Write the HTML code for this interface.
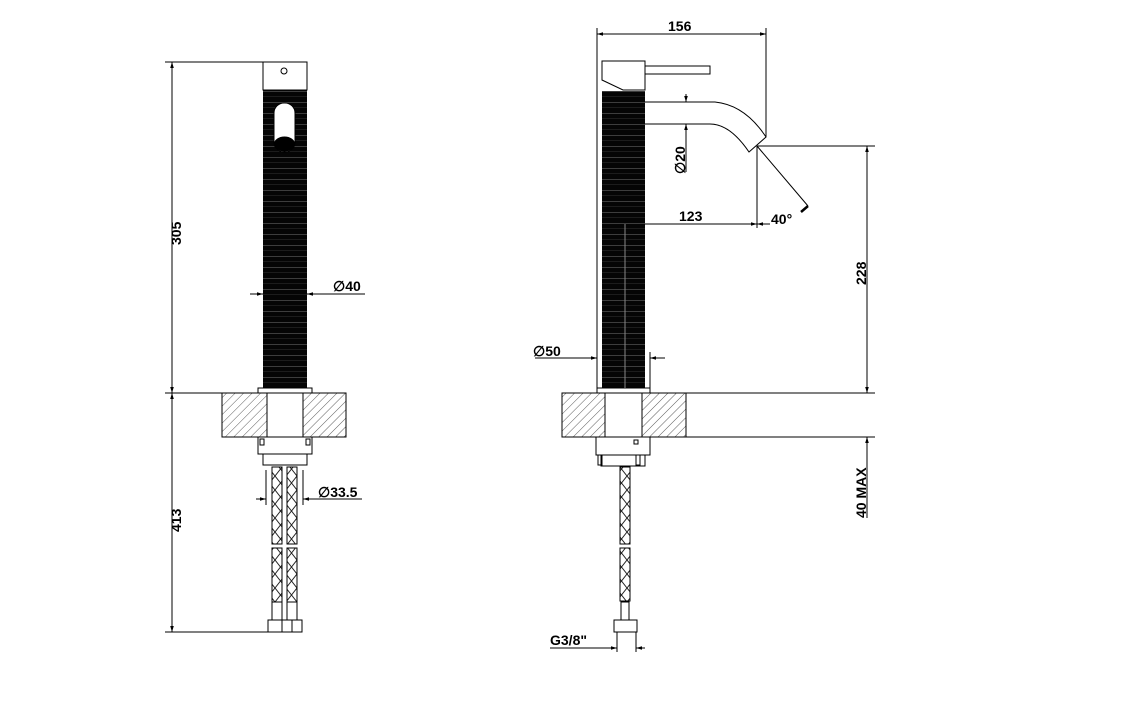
<!DOCTYPE html>
<html><head><meta charset="utf-8"><style>html,body{margin:0;padding:0;background:#fff}svg{display:block}text{font-family:"Liberation Sans",sans-serif;font-weight:bold;font-size:14px;fill:#000}</style></head>
<body>
<svg width="1132" height="715" viewBox="0 0 1132 715" xmlns="http://www.w3.org/2000/svg">
<defs>
<pattern id="st" width="8" height="11" patternUnits="userSpaceOnUse">
<rect width="8" height="11" fill="#050505"/><rect y="3" width="8" height="0.7" fill="#555"/><rect y="8" width="8" height="0.5" fill="#333"/>
</pattern>
<pattern id="h" width="6" height="6" patternUnits="userSpaceOnUse" patternTransform="rotate(45)">
<rect width="6" height="6" fill="#fff"/><line x1="0" y1="0" x2="0" y2="6" stroke="#333" stroke-width="0.8"/>
</pattern>
<pattern id="x" width="11" height="14" patternUnits="userSpaceOnUse">
<rect width="11" height="14" fill="#fff"/><path d="M0 0L11 14M11 0L0 14" stroke="#222" stroke-width="1" fill="none"/>
</pattern>
<marker id="a" viewBox="0 0 10 10" refX="10" refY="5" markerWidth="8" markerHeight="6" orient="auto-start-reverse"><path d="M0 2L10 5L0 8z" fill="#000"/></marker>
</defs>
<g stroke="#000" stroke-width="1" fill="none">
<rect x="263" y="62" width="44" height="28" fill="#fff"/>
<circle cx="284" cy="71" r="3"/>
<rect x="263" y="90" width="44" height="298" fill="url(#st)" stroke="none"/>
<rect x="274" y="103" width="21" height="49" rx="10" fill="#fff"/>
<ellipse cx="284.5" cy="144" rx="10" ry="7" fill="#000"/>
<rect x="258" y="388" width="54" height="5" fill="#fff"/>
<rect x="222" y="393" width="45" height="44" fill="url(#h)"/>
<rect x="303" y="393" width="43" height="44" fill="url(#h)"/>
<rect x="267" y="393" width="36" height="44" fill="#fff"/>
<rect x="258" y="437" width="54" height="17" fill="#fff"/>
<rect x="263" y="454" width="44" height="11" fill="#fff"/>
<rect x="260" y="439" width="4" height="6"/><rect x="306" y="439" width="4" height="6"/>
<rect x="272" y="467" width="10" height="77" fill="url(#x)"/>
<rect x="287" y="467" width="10" height="77" fill="url(#x)"/>
<rect x="272" y="548" width="10" height="54" fill="url(#x)"/>
<rect x="287" y="548" width="10" height="54" fill="url(#x)"/>
<rect x="272" y="602" width="10" height="18" fill="#fff"/><rect x="287" y="602" width="10" height="18" fill="#fff"/>
<rect x="268" y="620" width="34" height="12" fill="#fff"/>
<line x1="282" y1="620" x2="282" y2="632"/><line x1="292" y1="620" x2="292" y2="632"/>
<line x1="165" y1="62" x2="263" y2="62"/>
<line x1="165" y1="393" x2="222" y2="393"/>
<line x1="165" y1="632" x2="268" y2="632"/>
<line x1="172" y1="62" x2="172" y2="393" marker-start="url(#a)" marker-end="url(#a)"/>
<line x1="172" y1="393" x2="172" y2="632" marker-start="url(#a)" marker-end="url(#a)"/>
<line x1="250" y1="294" x2="263" y2="294" marker-end="url(#a)"/>
<line x1="365" y1="294" x2="307" y2="294" marker-end="url(#a)"/>
<line x1="266" y1="470" x2="266" y2="505"/><line x1="303" y1="470" x2="303" y2="505"/>
<line x1="256" y1="499" x2="266" y2="499" marker-end="url(#a)"/>
<line x1="362" y1="499" x2="303" y2="499" marker-end="url(#a)"/>
<path d="M602 61H645V90H623L602 80Z" fill="#fff"/>
<rect x="645" y="66" width="65" height="8" fill="#fff"/>
<rect x="602" y="91" width="43" height="297" fill="url(#st)" stroke="none"/>
<path d="M645 102H715Q745 105 766 137L749 152Q730 124 710 124H645" fill="#fff"/>
<rect x="597" y="388" width="53" height="5" fill="#fff"/>
<rect x="562" y="393" width="43" height="44" fill="url(#h)"/>
<rect x="642" y="393" width="44" height="44" fill="url(#h)"/>
<rect x="605" y="393" width="37" height="44" fill="#fff"/>
<rect x="596" y="437" width="54" height="18" fill="#fff"/>
<rect x="601" y="455" width="44" height="11" fill="#fff"/>
<rect x="598" y="455" width="4" height="10"/><rect x="636" y="455" width="4" height="10"/>
<rect x="634" y="440" width="4" height="4"/>
<rect x="620" y="467" width="10" height="77" fill="url(#x)"/>
<rect x="620" y="548" width="10" height="53" fill="url(#x)"/>
<rect x="621" y="602" width="8" height="18" fill="#fff"/>
<rect x="614" y="620" width="23" height="12" fill="#fff"/>
<line x1="597" y1="28" x2="597" y2="390"/>
<line x1="766" y1="28" x2="766" y2="137"/>
<line x1="597" y1="34" x2="766" y2="34" marker-start="url(#a)" marker-end="url(#a)"/>
<line x1="686" y1="94" x2="686" y2="102" marker-end="url(#a)"/>
<line x1="686" y1="132" x2="686" y2="124" marker-end="url(#a)"/>
<line x1="686" y1="124" x2="686" y2="172"/>
<line x1="757" y1="146" x2="757" y2="228"/>
<line x1="757" y1="146" x2="875" y2="146"/>
<line x1="757" y1="146" x2="808" y2="206"/>
<line x1="808" y1="206" x2="801" y2="212" stroke-width="2.5"/>
<line x1="645" y1="224" x2="757" y2="224" marker-end="url(#a)"/>
<line x1="770" y1="224" x2="757" y2="224" marker-end="url(#a)"/>
<line x1="625" y1="224" x2="625" y2="388" stroke="#888"/>
<line x1="867" y1="146" x2="867" y2="393" marker-start="url(#a)" marker-end="url(#a)"/>
<line x1="686" y1="393" x2="875" y2="393"/>
<line x1="686" y1="437" x2="875" y2="437"/>
<line x1="867" y1="437" x2="867" y2="518" marker-start="url(#a)"/>
<line x1="535" y1="358" x2="597" y2="358" marker-end="url(#a)"/>
<line x1="665" y1="358" x2="650" y2="358" marker-end="url(#a)"/>
<line x1="650" y1="352" x2="650" y2="390"/>
<line x1="617" y1="632" x2="617" y2="652"/><line x1="636" y1="632" x2="636" y2="652"/>
<line x1="550" y1="648" x2="617" y2="648" marker-end="url(#a)"/>
<line x1="645" y1="648" x2="636" y2="648" marker-end="url(#a)"/>
</g>
<g>
<text x="0" y="0" transform="translate(181,245) rotate(-90)">305</text>
<text x="0" y="0" transform="translate(181,532) rotate(-90)">413</text>
<text x="333" y="291">∅40</text>
<text x="318" y="497">∅33.5</text>
<text x="668" y="31">156</text>
<text x="0" y="0" transform="translate(685,174) rotate(-90)">∅20</text>
<text x="679" y="221">123</text>
<text x="771" y="224">40°</text>
<text x="0" y="0" transform="translate(866,285) rotate(-90)">228</text>
<text x="0" y="0" transform="translate(866,518) rotate(-90)">40  MAX</text>
<text x="533" y="356">∅50</text>
<text x="550" y="645">G3/8"</text>
</g>
</svg>
</body></html>
